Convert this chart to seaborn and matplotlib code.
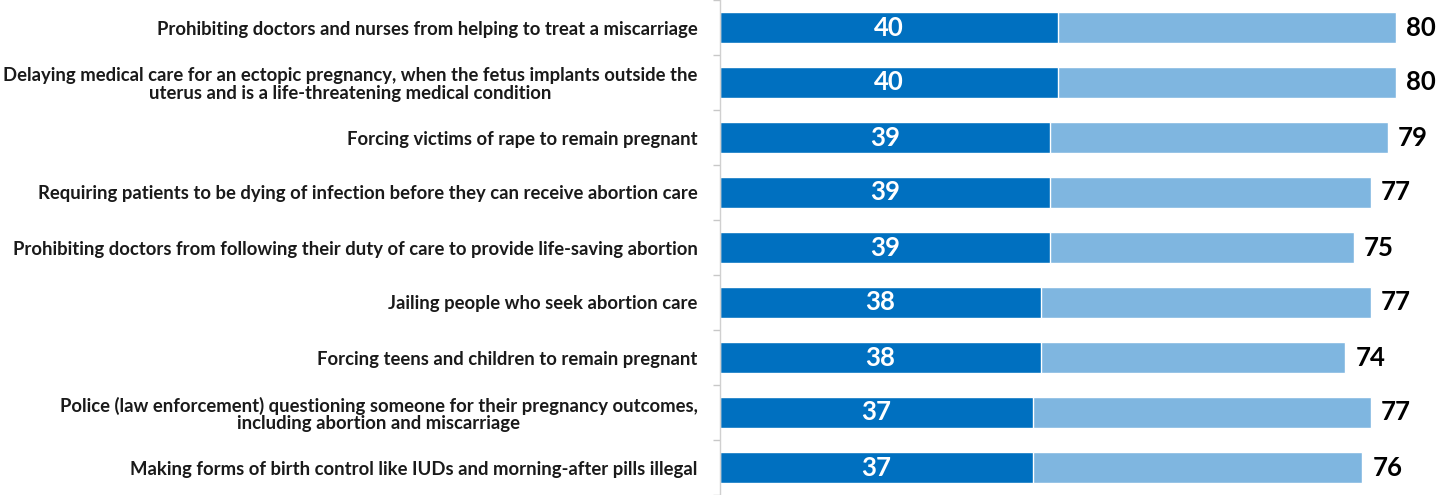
import matplotlib
matplotlib.use("Agg")
import matplotlib.pyplot as plt
import seaborn as sns
import pandas as pd
import numpy as np

categories = [
    "Prohibiting doctors and nurses from helping to treat a miscarriage",
    "Delaying medical care for an ectopic pregnancy, when the fetus implants outside the\nuterus and is a life-threatening medical condition",
    "Forcing victims of rape to remain pregnant",
    "Requiring patients to be dying of infection before they can receive abortion care",
    "Prohibiting doctors from following their duty of care to provide life-saving abortion",
    "Jailing people who seek abortion care",
    "Forcing teens and children to remain pregnant",
    "Police (law enforcement) questioning someone for their pregnancy outcomes,\nincluding abortion and miscarriage",
    "Making forms of birth control like IUDs and morning-after pills illegal",
]
strong_values = [40, 40, 39, 39, 39, 38, 38, 37, 37]
total_values = [80, 80, 79, 77, 75, 77, 74, 77, 76]

df = pd.DataFrame({"category": categories, "strong": strong_values, "total": total_values})

sns.set_theme(style="white")
plt.rcParams["font.family"] = ["Lato", "DejaVu Sans"]

fig = plt.figure(figsize=(14.4, 4.95), dpi=100)
ax = fig.add_axes([0.5, 0.0, 0.5, 1.0])

dark = "#0070C0"
light = "#7FB6E0"

sns.barplot(data=df, y="category", x="total", color=light, orient="h", width=0.55,
            saturation=1, ax=ax, order=categories)
sns.barplot(data=df, y="category", x="strong", color=dark, orient="h", width=0.55,
            saturation=1, ax=ax, order=categories)

ax.set_xlim(0, 85.2)
ax.set_ylim(len(categories) - 0.5, -0.5)
ax.set_xlabel("")
ax.set_ylabel("")
ax.set_xticks([])

for i, (s, t) in enumerate(zip(strong_values, total_values)):
    ax.text(s / 2, i, str(s), ha="center", va="center", color="white",
            fontsize=18.5, fontweight="bold")
    ax.text(t + 1.2, i, str(t), ha="left", va="center", color="black",
            fontsize=18.5, fontweight="bold")

ax.set_yticks(range(len(categories)))
ax.set_yticklabels(categories, fontsize=13.3, fontweight="bold", color="#1a1a1a",
                   multialignment="center", linespacing=1.05)
ax.tick_params(axis="y", which="major", length=0, pad=16)
ax.set_yticks(np.arange(-0.5, len(categories), 1.0), minor=True)
ax.tick_params(axis="y", which="minor", length=5, color="#c8c8c8", width=1, left=True)

for side in ["top", "right", "bottom"]:
    ax.spines[side].set_visible(False)
ax.spines["left"].set_color("#d0d0d0")
ax.spines["left"].set_linewidth(1)

fig.savefig("out.png", dpi=100)
